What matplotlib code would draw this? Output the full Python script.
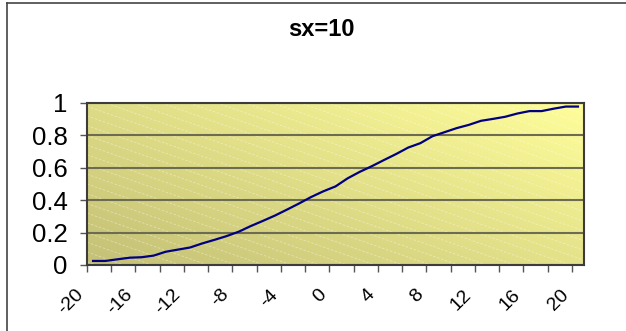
import numpy as np
import matplotlib.pyplot as plt
from matplotlib.colors import LinearSegmentedColormap
from matplotlib.lines import Line2D
from matplotlib.transforms import offset_copy

plt.rcParams['font.family'] = ['Liberation Sans', 'DejaVu Sans']

# categories -20..20 and the cumulative values
x = np.arange(-20, 21)
y = [0.025, 0.025, 0.035, 0.045, 0.048, 0.058, 0.082, 0.095, 0.108, 0.133,
     0.155, 0.178, 0.205, 0.240, 0.272, 0.305, 0.342, 0.380, 0.420, 0.455,
     0.485, 0.535, 0.575, 0.610, 0.648, 0.685, 0.725, 0.752, 0.795, 0.820,
     0.845, 0.865, 0.890, 0.902, 0.915, 0.935, 0.950, 0.950, 0.965, 0.978,
     0.978]
x_labels = ['-20', '-16', '-12', '-8', '-4', '0', '4', '8', '12', '16', '20']
y_ticks = [0, 0.2, 0.4, 0.6, 0.8, 1]
y_labels = ['0', '0.2', '0.4', '0.6', '0.8', '1']

fig = plt.figure(figsize=(6.26, 3.31), dpi=100)
ax = fig.add_axes([87/626, 1 - 265/331, (584 - 87)/626, 162/331])

# gradient fill, dark olive lower left -> pale yellow upper right
n = 200
u, v = np.meshgrid(np.linspace(0, 1, n), np.linspace(0, 1, n))
cmap = LinearSegmentedColormap.from_list('fill', ['#c4c076', '#fffe9a'])
ax.imshow(u * 0.55 + v * 0.45, extent=[0, 1, 0, 1], origin='lower',
          transform=ax.transAxes, cmap=cmap, aspect='auto', zorder=0)

# faint dashed diagonal stripes
for c in np.arange(0.02, 2.1, 0.06):
    ax.plot([0, 1], [c, c - 1.07], transform=ax.transAxes, color='white',
            alpha=0.4, lw=0.6, ls=(0, (3, 2)), zorder=0.5,
            scalex=False, scaley=False)

pos = np.arange(len(x))
ax.plot(pos, y, color='#000080', lw=1.6, zorder=3)

ax.set_xlim(-0.5, len(x) - 0.5)
ax.set_ylim(0, 1)

ax.set_xticks(np.arange(-0.5, len(x) - 1, 2))
ax.set_xticklabels([])
ax.tick_params(axis='x', direction='out', length=5, width=1, color='#555555')

lab_tr = offset_copy(ax.get_xaxis_transform(), fig=fig, x=-12, y=-27, units='dots')
for lab in x_labels:
    i = list(x).index(int(lab))
    ax.text(pos[i], 0, lab, transform=lab_tr, rotation=45, rotation_mode='anchor',
            ha='right', va='center', fontsize=14)

ax.set_yticks(y_ticks)
ax.set_yticklabels(y_labels, fontsize=18.5)
ax.tick_params(axis='y', direction='out', length=5, width=1, color='#555555', pad=9)

ax.yaxis.grid(True, color='#6c6c52', lw=1.5)
for s in ax.spines.values():
    s.set_color('#3c3c3c')
    s.set_linewidth(1.5)

# outer chart border (left and top edges)
fig.add_artist(Line2D([7/626, 7/626], [0, 1 - 3/331], color='#444444', lw=1.2))
fig.add_artist(Line2D([7/626, 1], [1 - 3/331, 1 - 3/331], color='#444444', lw=1.2))

fig.text(321/626, 1 - 29/331, 'sx=10', ha='center', va='center',
         fontsize=17, fontweight='bold')

fig.savefig('out.png', dpi=100)
